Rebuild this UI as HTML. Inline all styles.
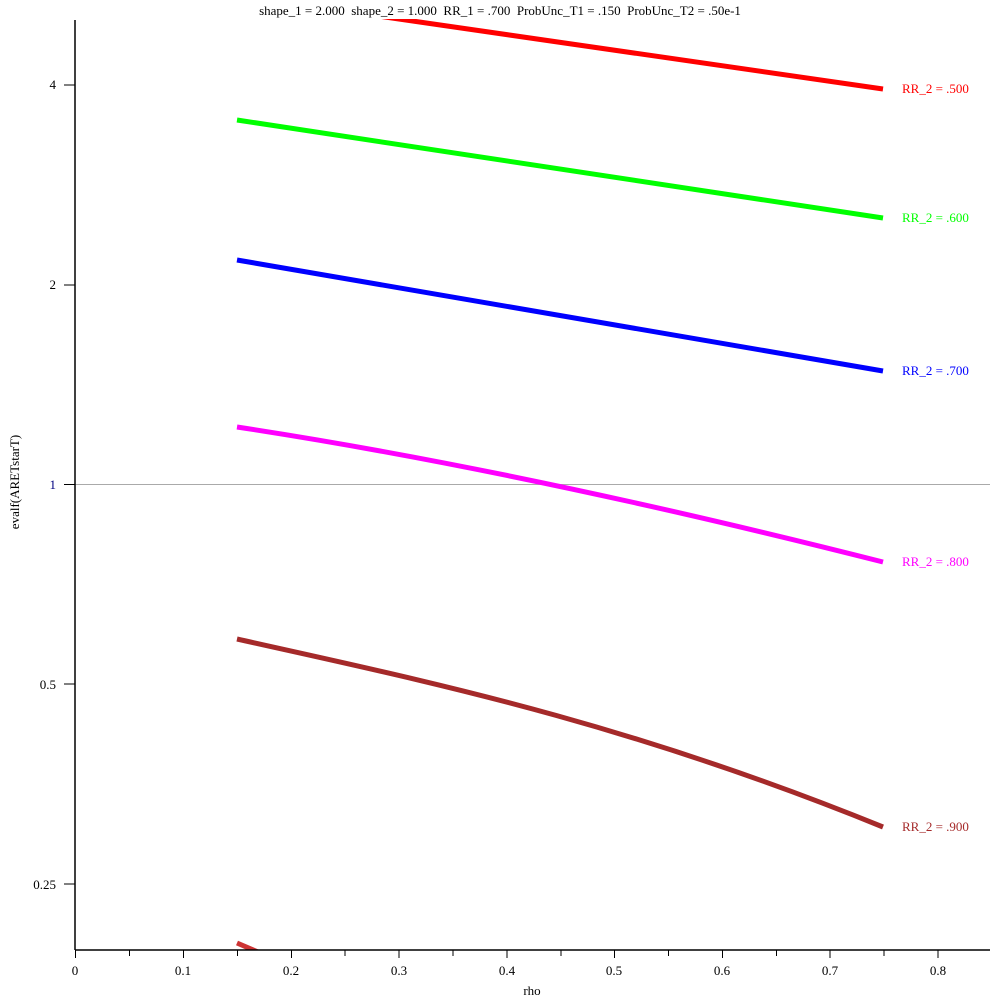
<!DOCTYPE html>
<html><head><meta charset="utf-8"><style>
body{margin:0;background:#fff}
svg{display:block}
text{font-family:"Liberation Serif",serif;font-size:13px;white-space:pre}
</style></head><body>
<svg width="1000" height="1000" viewBox="0 0 1000 1000">
<rect width="1000" height="1000" fill="#fff"/>
<text x="500" y="15" text-anchor="middle" fill="#000" xml:space="preserve">shape_1 = 2.000  shape_2 = 1.000  RR_1 = .700  ProbUnc_T1 = .150  ProbUnc_T2 = .50e-1</text>
<defs><clipPath id="c"><rect x="75" y="19" width="915" height="931"/></clipPath></defs>
<line x1="75" y1="484.5" x2="990" y2="484.5" stroke="#aaa" stroke-width="1"/>
<g clip-path="url(#c)" fill="none" stroke-width="5" stroke-linecap="butt">
<line x1="378" y1="16" x2="883" y2="89" stroke="#ff0000"/>
<line x1="237" y1="120" x2="883" y2="218" stroke="#00ff00"/>
<line x1="237" y1="260" x2="883" y2="371" stroke="#0000ff"/>
<path d="M237,427 Q520,470 883,562" stroke="#ff00ff"/>
<path d="M237,639 C420,680 620,720 883,827" stroke="#a52a2a"/>
<line x1="237" y1="943" x2="300" y2="970" stroke="#cd3333"/>
</g>
<g fill="none" stroke="#000" stroke-width="1.5">
<line x1="75" y1="20" x2="75" y2="950"/>
<line x1="75" y1="950" x2="990" y2="950"/>
</g>
<g stroke="#000" stroke-width="1">
<line x1="64" y1="85" x2="75" y2="85"/>
<line x1="64" y1="285" x2="75" y2="285"/>
<line x1="64" y1="484.5" x2="75" y2="484.5"/>
<line x1="64" y1="684" x2="75" y2="684"/>
<line x1="64" y1="884" x2="75" y2="884"/>
<line x1="75.5" y1="950" x2="75.5" y2="958"/><line x1="129.5" y1="950" x2="129.5" y2="956"/>
<line x1="183.5" y1="950" x2="183.5" y2="958"/><line x1="237.5" y1="950" x2="237.5" y2="956"/>
<line x1="291.5" y1="950" x2="291.5" y2="958"/><line x1="345" y1="950" x2="345" y2="956"/>
<line x1="399" y1="950" x2="399" y2="958"/><line x1="453" y1="950" x2="453" y2="956"/>
<line x1="507" y1="950" x2="507" y2="958"/><line x1="561" y1="950" x2="561" y2="956"/>
<line x1="614.5" y1="950" x2="614.5" y2="958"/><line x1="668.5" y1="950" x2="668.5" y2="956"/>
<line x1="722.5" y1="950" x2="722.5" y2="958"/><line x1="776.5" y1="950" x2="776.5" y2="956"/>
<line x1="830" y1="950" x2="830" y2="958"/><line x1="884" y1="950" x2="884" y2="956"/>
<line x1="938" y1="950" x2="938" y2="958"/>
</g>
<g text-anchor="end" fill="#000">
<text x="56" y="89">4</text><text x="56" y="289">2</text>
<text x="56" y="489" fill="#000080">1</text><text x="56" y="689">0.5</text><text x="56" y="889">0.25</text>
</g>
<g text-anchor="middle" fill="#000">
<text x="75" y="975">0</text><text x="183" y="975">0.1</text><text x="291" y="975">0.2</text>
<text x="399" y="975">0.3</text><text x="507" y="975">0.4</text><text x="614" y="975">0.5</text>
<text x="722" y="975">0.6</text><text x="830" y="975">0.7</text><text x="938" y="975">0.8</text>
<text x="532" y="995">rho</text>
</g>
<text transform="translate(19,482) rotate(-90)" text-anchor="middle">evalf(ARETstarT)</text>
<g>
<text x="902" y="93" fill="#ff0000">RR_2 = .500</text>
<text x="902" y="222" fill="#00ff00">RR_2 = .600</text>
<text x="902" y="375" fill="#0000ff">RR_2 = .700</text>
<text x="902" y="566" fill="#ff00ff">RR_2 = .800</text>
<text x="902" y="831" fill="#a52a2a">RR_2 = .900</text>
</g>
</svg>
</body></html>
